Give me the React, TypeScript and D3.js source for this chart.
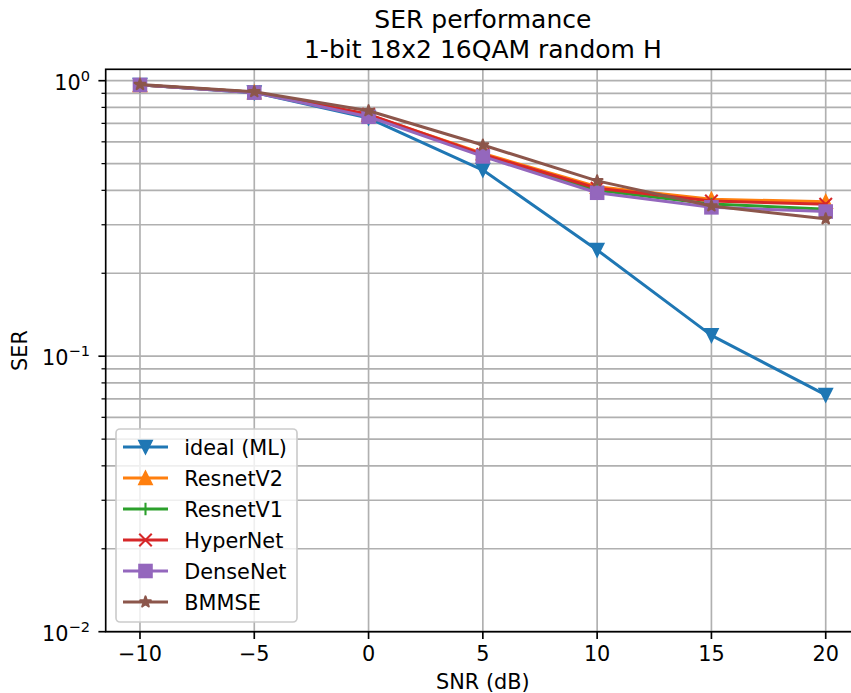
import React from 'react'
import * as d3 from 'd3'

// SNR values (dB)
const snr = [-10, -5, 0, 5, 10, 15, 20]

// SER per method
const idealML = [0.965, 0.905, 0.732, 0.474, 0.243, 0.119, 0.0723]
const resnetV2 = [0.965, 0.908, 0.752, 0.545, 0.412, 0.371, 0.364]
const resnetV1 = [0.965, 0.908, 0.748, 0.535, 0.4, 0.357, 0.342]
const hyperNet = [0.965, 0.908, 0.755, 0.54, 0.407, 0.366, 0.356]
const denseNet = [0.965, 0.905, 0.74, 0.531, 0.392, 0.347, 0.335]
const bmmse = [0.968, 0.912, 0.778, 0.584, 0.433, 0.351, 0.315]

const seriesNames = ['ideal (ML)', 'ResnetV2', 'ResnetV1', 'HyperNet', 'DenseNet', 'BMMSE']
const seriesValues = [idealML, resnetV2, resnetV1, hyperNet, denseNet, bmmse]
const seriesColors = ['#1f77b4', '#ff7f0e', '#2ca02c', '#d62728', '#9467bd', '#8c564b']
const seriesMarkers = ['v', '^', '+', 'x', 's', '*']

const xTicks = [-10, -5, 0, 5, 10, 15, 20]
const yMajor = [0.01, 0.1, 1]
const yExp = ['−2', '−1', '0']

const W = 851
const H = 693
const left = 105.7
const right = 860
const top = 69.3
const bottom = 631.7
const font = 'DejaVu Sans'
const ms = 6.25 // half marker size
const mew = 2.08

const x = d3.scaleLinear().domain([-11.5, 21.5]).range([left, right])
const y = d3.scaleLog().domain([0.01, 1]).range([bottom, 80.7])

function starPath(r: number) {
  const pts: string[] = []
  for (let i = 0; i < 10; i++) {
    const rr = i % 2 === 0 ? r : r * 0.381966
    const a = -Math.PI / 2 + (i * Math.PI) / 5
    pts.push(`${(rr * Math.cos(a)).toFixed(2)},${(rr * Math.sin(a)).toFixed(2)}`)
  }
  return 'M' + pts.join('L') + 'Z'
}

function Marker({ kind, cx, cy, color }: { kind: string; cx: number; cy: number; color: string }) {
  const t = `translate(${cx},${cy})`
  if (kind === 'v')
    return <path transform={t} d={`M0,${ms}L${-ms},${-ms}L${ms},${-ms}Z`} fill={color} stroke={color} strokeWidth={mew} />
  if (kind === '^')
    return <path transform={t} d={`M0,${-ms}L${-ms},${ms}L${ms},${ms}Z`} fill={color} stroke={color} strokeWidth={mew} />
  if (kind === '+')
    return <path transform={t} d={`M${-ms},0L${ms},0M0,${-ms}L0,${ms}`} stroke={color} strokeWidth={mew} fill="none" />
  if (kind === 'x')
    return <path transform={t} d={`M${-ms},${-ms}L${ms},${ms}M${-ms},${ms}L${ms},${-ms}`} stroke={color} strokeWidth={mew} fill="none" />
  if (kind === 's')
    return <rect transform={t} x={-ms} y={-ms} width={ms * 2} height={ms * 2} fill={color} stroke={color} strokeWidth={mew} />
  return <path transform={t} d={starPath(5.6)} fill={color} stroke={color} strokeWidth={mew} strokeLinejoin="round" />
}

const App = () => {
  const line = d3
    .line<[number, number]>()
    .x((d) => x(d[0]))
    .y((d) => y(d[1]))

  // minor y ticks 2..9 per decade
  const yMinor: number[] = []
  ;[0.01, 0.1, 1].forEach((dec) => {
    for (let k = 2; k <= 9; k++) yMinor.push(dec * k)
  })
  const yMinorIn = yMinor.filter((v) => y(v) >= top)

  const legX = 116
  const legY = 429
  const rowH = 31

  return (
    <svg width={W} height={H} style={{ position: 'absolute', left: 0, top: 0 }} fontFamily={font}>
      <rect width={W} height={H} fill="#fff" />
      <defs>
        <clipPath id="plot">
          <rect x={left} y={top} width={right - left} height={bottom - top} />
        </clipPath>
      </defs>

      {/* grid */}
      <g stroke="#b0b0b0" strokeWidth={1.67}>
        {xTicks.map((t) => (
          <line key={'gx' + t} x1={x(t)} x2={x(t)} y1={top} y2={bottom} />
        ))}
        {yMajor.concat(yMinorIn).map((v) => (
          <line key={'gy' + v} x1={left} x2={right} y1={y(v)} y2={y(v)} />
        ))}
      </g>

      {/* series */}
      <g clipPath="url(#plot)">
        {seriesValues.map((vals, i) => (
          <g key={seriesNames[i]}>
            <path
              d={line(snr.map((s, j) => [s, vals[j]] as [number, number])) || ''}
              fill="none"
              stroke={seriesColors[i]}
              strokeWidth={3}
              strokeLinejoin="round"
              strokeLinecap="square"
            />
            {snr.map((s, j) => (
              <Marker key={j} kind={seriesMarkers[i]} cx={x(s)} cy={y(vals[j])} color={seriesColors[i]} />
            ))}
          </g>
        ))}
      </g>

      {/* spines */}
      <rect x={left} y={top} width={right - left} height={bottom - top} stroke="#000" strokeWidth={1.67} fill="none" />

      {/* x ticks */}
      {xTicks.map((t) => (
        <g key={'xt' + t}>
          <line x1={x(t)} x2={x(t)} y1={bottom} y2={bottom + 7.3} stroke="#000" strokeWidth={1.67} />
          <text x={x(t)} y={660.6} textAnchor="middle" fontSize={20.8}>
            {t < 0 ? '−' + Math.abs(t) : String(t)}
          </text>
        </g>
      ))}

      {/* y ticks */}
      {yMajor.map((v, i) => (
        <g key={'yt' + v}>
          <line x1={left - 7.3} x2={left} y1={y(v)} y2={y(v)} stroke="#000" strokeWidth={1.67} />
          <text x={90} y={y(v) + 8.8} textAnchor="end" fontSize={20.8}>
            10
            <tspan dy={-8.6} fontSize={14.6}>
              {yExp[i]}
            </tspan>
          </text>
        </g>
      ))}
      {yMinorIn.map((v) => (
        <line key={'ym' + v} x1={left - 4.2} x2={left} y1={y(v)} y2={y(v)} stroke="#000" strokeWidth={1.25} />
      ))}

      {/* labels */}
      <text x={(left + right) / 2} y={28} textAnchor="middle" fontSize={25}>
        SER performance
      </text>
      <text x={(left + right) / 2} y={57.5} textAnchor="middle" fontSize={25}>
        1-bit 18x2 16QAM random H
      </text>
      <text x={(left + right) / 2} y={688.5} textAnchor="middle" fontSize={20.8}>
        SNR (dB)
      </text>
      <text transform={`translate(27,${(top + bottom) / 2}) rotate(-90)`} textAnchor="middle" fontSize={20.8}>
        SER
      </text>

      {/* legend */}
      <rect x={legX} y={legY} width={181} height={193} rx={4} fill="#fff" fillOpacity={0.8} stroke="#cccccc" strokeWidth={1.67} />
      {seriesNames.map((name, i) => {
        const ry = 447 + i * rowH
        return (
          <g key={'lg' + name}>
            <line x1={123} x2={168} y1={ry} y2={ry} stroke={seriesColors[i]} strokeWidth={3} />
            <Marker kind={seriesMarkers[i]} cx={145.5} cy={ry} color={seriesColors[i]} />
            <text x={184.3} y={ry + 8} fontSize={20.8}>
              {name}
            </text>
          </g>
        )
      })}
    </svg>
  )
}

export default App
